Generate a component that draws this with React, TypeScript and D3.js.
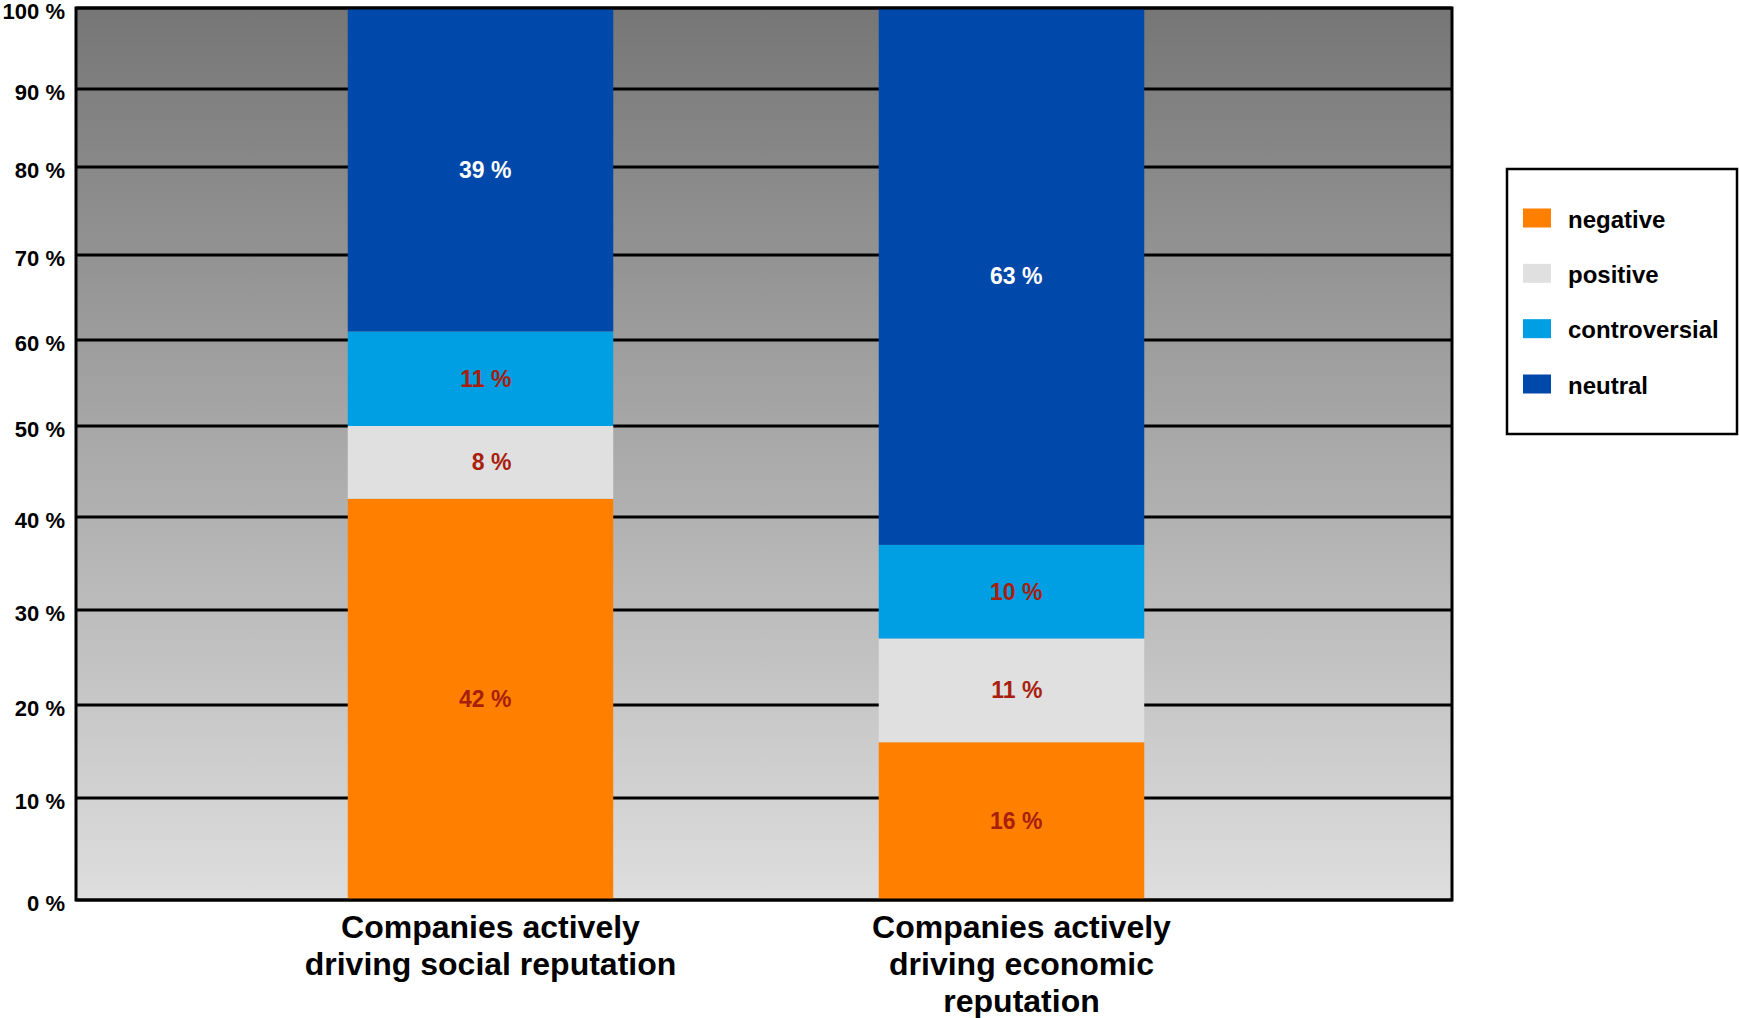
import React from "react";
import * as d3 from "d3";

// ---- data ----
const categories = ["social", "economic"];
const categoryLines = [
  ["Companies actively", "driving social reputation"],
  ["Companies actively", "driving economic", "reputation"],
];
const seriesNames = ["negative", "positive", "controversial", "neutral"];
const negative = [42, 16];
const positive = [8, 11];
const controversial = [11, 10];
const neutral = [39, 63];
const yTicks = [0, 10, 20, 30, 40, 50, 60, 70, 80, 90, 100];

// ---- style / layout ----
const W = 1739;
const H = 1018;
const colors: Record<string, string> = {
  negative: "#ff7f00",
  positive: "#e0e0e0",
  controversial: "#009fe3",
  neutral: "#0048a9",
};
const labelColors: Record<string, string> = {
  negative: "#a8200d",
  positive: "#a8200d",
  controversial: "#a8200d",
  neutral: "#ffffff",
};
const FONT = "'Liberation Sans', Arial, Helvetica, sans-serif";
const plot = { left: 76, right: 1452, top: 8, bottom: 900 };
// the reference's gridlines are not evenly spaced: a piecewise-linear scale
const yStops = [900, 798, 705, 610, 517, 426, 340, 255, 167, 89, 8];

export default function App() {
  const y = d3.scaleLinear().domain(yTicks).range(yStops);
  const x = d3.scaleBand().domain(categories).range([215, 1277]).padding(0);
  const barW = x.bandwidth() * 0.5;

  const rows = categories.map((c, i) => ({
    cat: c,
    negative: negative[i],
    positive: positive[i],
    controversial: controversial[i],
    neutral: neutral[i],
  }));
  const stacked = d3.stack<any>().keys(seriesNames)(rows);

  const legendY = d3.scalePoint().domain(seriesNames).range([218, 384]);

  return (
    <svg
      width={W}
      height={H}
      style={{ position: "absolute", left: 0, top: 0, display: "block", background: "#fff" }}
      fontFamily={FONT}
    >
      <defs>
        <linearGradient id="bg" x1="0" y1="0" x2="0" y2="1">
          <stop offset="0" stopColor="#767676" />
          <stop offset="1" stopColor="#dedede" />
        </linearGradient>
      </defs>
      <rect
        x={plot.left}
        y={plot.top}
        width={plot.right - plot.left}
        height={plot.bottom - plot.top}
        fill="url(#bg)"
      />
      {/* gridlines */}
      {yTicks.map((t) => (
        <line
          key={"g" + t}
          x1={plot.left}
          x2={plot.right}
          y1={y(t)}
          y2={y(t)}
          stroke="#000"
          strokeWidth={3}
        />
      ))}
      {/* bars */}
      {stacked.map((s) => (
        <g key={s.key}>
          {s.map((d, i) => {
            const cx = (x(categories[i]) as number) + x.bandwidth() / 2;
            const y0 = y(d[0]);
            const y1 = y(d[1]);
            return (
              <g key={i}>
                <rect x={cx - barW / 2} y={y1} width={barW} height={y0 - y1} fill={colors[s.key]} />
                <text
                  x={cx + 31}
                  y={(y0 + y1) / 2}
                  textAnchor="end"
                  dominantBaseline="central"
                  fontSize={23}
                  fontWeight="bold"
                  fill={labelColors[s.key]}
                >
                  {`${d[1] - d[0]} %`}
                </text>
              </g>
            );
          })}
        </g>
      ))}
      {/* frame */}
      <rect
        x={plot.left}
        y={plot.top}
        width={plot.right - plot.left}
        height={plot.bottom - plot.top}
        fill="none"
        stroke="#000"
        strokeWidth={3}
      />
      {/* y tick labels */}
      {yTicks.map((t) => (
        <text
          key={"t" + t}
          x={65}
          y={y(t) + 3}
          textAnchor="end"
          dominantBaseline="central"
          fontSize={22}
          fontWeight="bold"
          fill="#000"
        >
          {`${t} %`}
        </text>
      ))}
      {/* category labels */}
      {categories.map((c, i) => {
        const cx = (x(c) as number) + x.bandwidth() / 2 + 10;
        return (
          <text key={c} textAnchor="middle" fontSize={32} fontWeight="bold" fill="#000">
            {categoryLines[i].map((ln, j) => (
              <tspan key={j} x={cx} y={938 + j * 37}>
                {ln}
              </tspan>
            ))}
          </text>
        );
      })}
      {/* legend */}
      <rect x={1507} y={169} width={230} height={265} fill="#fff" stroke="#000" strokeWidth={2.5} />
      {seriesNames.map((n) => (
        <g key={n}>
          <rect x={1523} y={(legendY(n) as number) - 9.5} width={28} height={19} fill={colors[n]} />
          <text
            x={1568}
            y={(legendY(n) as number) + 1}
            dominantBaseline="central"
            fontSize={24}
            fontWeight="bold"
            fill="#000"
          >
            {n}
          </text>
        </g>
      ))}
    </svg>
  );
}
